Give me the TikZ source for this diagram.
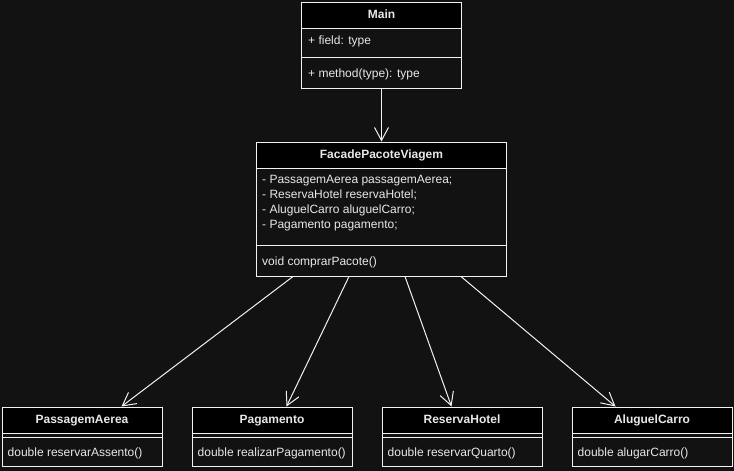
\documentclass[tikz,border=0pt]{standalone}
\usepackage{fontspec}
\setmainfont{Liberation Sans}
\usetikzlibrary{arrows.meta,calc}
\definecolor{bg}{HTML}{121212}
\definecolor{fg}{HTML}{F2F2F2}
\definecolor{txt}{HTML}{E8E8E8}
\tikzset{
  classbox/.style={draw=fg, line width=1pt, inner sep=0pt, anchor=north west},
  header/.style={draw=fg, fill=black, line width=1pt, inner sep=0pt, anchor=north west,
    text=txt, font=\fontsize{12}{14}\selectfont\bfseries, text height=8.5pt, text depth=2.5pt},
  member/.style={anchor=west, inner sep=0pt, text=txt, font=\fontsize{12}{14}\selectfont,
    text height=8.5pt, text depth=2.5pt},
  sepline/.style={draw=fg, line width=1pt},
  assoc/.style={draw=fg, line width=1pt, -{Straight Barb[length=13pt,width=14pt,line width=1pt]}}
}
\begin{document}
\begin{tikzpicture}[x=1pt,y=-1pt]
\fill[bg] (0,0) rectangle (734,471);
\useasboundingbox (0,0) rectangle (734,471);

% Main
\node[classbox, minimum width=160pt, minimum height=86pt] (main) at (301,1.5) {};
\node[header, minimum width=160pt, minimum height=26pt] (mainH) at (301,1.5) {Main};
\node[member] (mainF) at (308,41) {+ field: type};
\draw[sepline] (301,57) -- (461,57);
\node[member] (mainM) at (308,74) {+ method(type): type};

% Facade
\node[classbox, minimum width=250pt, minimum height=134pt] (facade) at (256,141.5) {};
\node[header, minimum width=250pt, minimum height=26pt] (facadeH) at (256,141.5) {FacadePacoteViagem};
\node[member] (f1) at (262,180) {- PassagemAerea passagemAerea;};
\node[member] (f2) at (262,195) {- ReservaHotel reservaHotel;};
\node[member] (f3) at (262,210) {- AluguelCarro aluguelCarro;};
\node[member] (f4) at (262,225) {- Pagamento pagamento;};
\draw[sepline] (256,245) -- (506,245);
\node[member] (fm) at (262,262) {void comprarPacote()};

% Bottom classes
\node[classbox, minimum width=160pt, minimum height=59pt] (pa) at (1.5,406.5) {};
\node[header, minimum width=160pt, minimum height=26pt] (paH) at (1.5,406.5) {PassagemAerea};
\draw[sepline] (1.5,437) -- (161.5,437);
\node[member] (paM) at (7.5,453) {double reservarAssento()};

\node[classbox, minimum width=160pt, minimum height=59pt] (pg) at (191.5,406.5) {};
\node[header, minimum width=160pt, minimum height=26pt] (pgH) at (191.5,406.5) {Pagamento};
\draw[sepline] (191.5,437) -- (351.5,437);
\node[member] (pgM) at (197.5,453) {double realizarPagamento()};

\node[classbox, minimum width=160pt, minimum height=59pt] (rh) at (381.5,406.5) {};
\node[header, minimum width=160pt, minimum height=26pt] (rhH) at (381.5,406.5) {ReservaHotel};
\draw[sepline] (381.5,437) -- (541.5,437);
\node[member] (rhM) at (387.5,453) {double reservarQuarto()};

\node[classbox, minimum width=160pt, minimum height=59pt] (ac) at (571.5,406.5) {};
\node[header, minimum width=160pt, minimum height=26pt] (acH) at (571.5,406.5) {AluguelCarro};
\draw[sepline] (571.5,437) -- (731.5,437);
\node[member] (acM) at (577.5,453) {double alugarCarro()};

% Connectors
\draw[assoc] (main.south) -- (facadeH.north);
\draw[assoc] ([xshift=37pt]facade.south west) -- ([xshift=120pt]paH.north west);
\draw[assoc] ([xshift=93pt]facade.south west) -- ([xshift=95pt]pgH.north west);
\draw[assoc] ([xshift=149pt]facade.south west) -- ([xshift=70pt]rhH.north west);
\draw[assoc] ([xshift=205pt]facade.south west) -- ([xshift=44pt]acH.north west);
\end{tikzpicture}
\end{document}
